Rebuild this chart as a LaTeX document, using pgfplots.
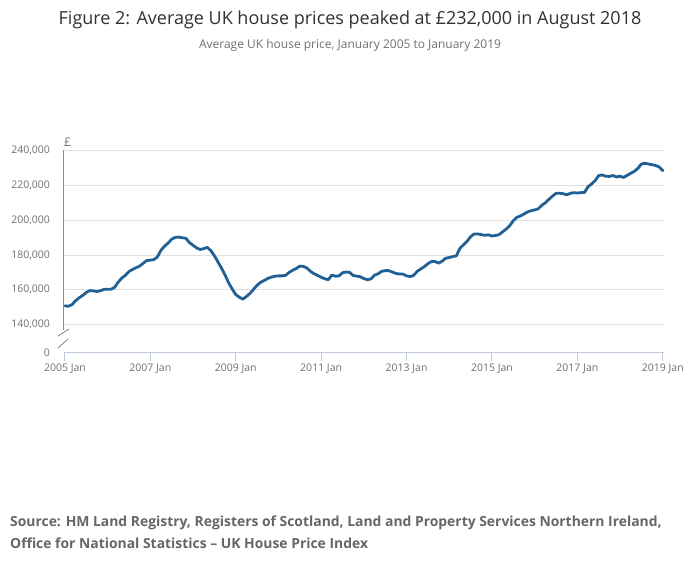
\documentclass[border=0pt]{standalone}
\usepackage{pgfplots}
\pgfplotsset{compat=1.18}
\usepackage{pgfplotstable}
\usepackage{fontspec}
\setmainfont{Open Sans}
\definecolor{onsblue}{HTML}{206095}
\definecolor{ticktext}{HTML}{707070}
\definecolor{srctext}{HTML}{666666}
\definecolor{gridgray}{HTML}{E0E0E0}
\definecolor{xaxisblue}{HTML}{BECADB}
\definecolor{yaxisgray}{HTML}{8C8C8C}
\definecolor{titlegray}{HTML}{323132}
\pgfplotstableread{
m price
0 150900
1 150600
2 151600
3 153800
4 155500
5 156800
6 158500
7 159600
8 159400
9 159100
10 159500
11 160300
12 160400
13 160400
14 161500
15 164500
16 166800
17 168300
18 170500
19 171700
20 172700
21 173600
22 175200
23 176800
24 177000
25 177300
26 178900
27 182700
28 185000
29 186800
30 189000
31 190000
32 190200
33 189800
34 189500
35 187000
36 185500
37 184000
38 183100
39 183600
40 184300
41 182500
42 179500
43 176000
44 172400
45 168500
46 164000
47 160500
48 157300
49 155800
50 154700
51 156200
52 158000
53 160300
54 162700
55 164300
56 165400
57 166500
58 167300
59 167800
60 168000
61 168000
62 168300
63 170000
64 171200
65 172200
66 173600
67 173400
68 172500
69 170600
70 169200
71 168300
72 167200
73 166400
74 165800
75 168500
76 167800
77 168000
78 169800
79 170200
80 170000
81 168200
82 167900
83 167500
84 166500
85 165800
86 166300
87 168400
88 169200
89 170600
90 171000
91 171000
92 170200
93 169400
94 169100
95 169000
96 168000
97 167600
98 168300
99 170600
100 172000
101 173300
102 175000
103 176200
104 176200
105 175300
106 176400
107 178100
108 178500
109 179000
110 179500
111 183800
112 185800
113 187800
114 190400
115 192000
116 192000
117 191600
118 191200
119 191500
120 190800
121 191100
122 191600
123 193200
124 194800
125 196800
126 199600
127 201500
128 202300
129 203400
130 204600
131 205300
132 205700
133 206400
134 208400
135 209800
136 211800
137 213600
138 215200
139 215300
140 215000
141 214400
142 215200
143 215600
144 215400
145 215600
146 215700
147 219000
148 220600
149 222500
150 225400
151 225700
152 225000
153 224900
154 225400
155 224600
156 225000
157 224300
158 225500
159 226700
160 227800
161 229500
162 232000
163 232400
164 232000
165 231600
166 231100
167 230300
168 228200
}\hpi
\begin{document}
\begin{tikzpicture}
\useasboundingbox (0pt,0pt) rectangle (700pt,-574pt);
\node[anchor=base, font=\fontsize{18}{21}\selectfont, text=titlegray, inner sep=0pt] at (350pt,-24pt) {Figure 2: Average UK house prices peaked at £232,000 in August 2018};
\node[anchor=base, font=\fontsize{12}{14}\selectfont, text=ticktext, inner sep=0pt] at (350pt,-48pt) {Average UK house price, January 2005 to January 2019};
\begin{axis}[
  at={(63.5pt,-352.5pt)}, anchor=south west,
  scale only axis, width=600pt, height=202.5pt,
  xmin=-0.4, xmax=168.2,
  ymin=124170, ymax=240000,
  scaled y ticks=false,
  axis x line*=bottom, axis y line*=left,
  x axis line style={draw=xaxisblue, line width=1pt, -},
  y axis line style={draw=none, -},
  xtick={0,24,48,72,96,120,144,168},
  xticklabels={2005 Jan,2007 Jan,2009 Jan,2011 Jan,2013 Jan,2015 Jan,2017 Jan,2019 Jan},
  ytick={124170,140000,160000,180000,200000,220000,240000},
  yticklabels={0,{140,000},{160,000},{180,000},{200,000},{220,000},{240,000}},
  tick align=outside,
  xtick style={draw=xaxisblue, line width=1pt},
  major tick length=8pt,
  ytick style={draw=none},
  ymajorgrids, grid style={draw=gridgray, line width=0.8pt},
  ticklabel style={font=\fontsize{10.5}{12}\selectfont, text=ticktext},
  yticklabel style={xshift=-2pt},
  xticklabel style={yshift=0.5pt},
  /pgf/number format/assume math mode=true,
  clip=false,
]
\addplot[draw=onsblue, line width=2.8pt, line join=round, line cap=round, no marks] table[x=m, y=price] {\hpi};
\end{axis}
\draw[yaxisgray, line width=0.9pt] (63.5pt,-150pt) -- (63.5pt,-330pt);
\draw[yaxisgray, line width=0.9pt] (58pt,-336pt) -- (69pt,-329pt);
\draw[yaxisgray, line width=0.9pt] (58pt,-348pt) -- (68pt,-339pt);
\node[anchor=base west, font=\fontsize{12}{14}\selectfont, text=ticktext, inner sep=0pt] at (64pt,-146.5pt) {£};
\node[anchor=base west, font=\bfseries\fontsize{13.9}{22}\selectfont, text=srctext, inner sep=0pt] at (10pt,-526.5pt) {Source: HM Land Registry, Registers of Scotland, Land and Property Services Northern Ireland,};
\node[anchor=base west, font=\bfseries\fontsize{13.9}{22}\selectfont, text=srctext, inner sep=0pt] at (10pt,-548.5pt) {Office for National Statistics -- UK House Price Index};
\end{tikzpicture}
\end{document}
